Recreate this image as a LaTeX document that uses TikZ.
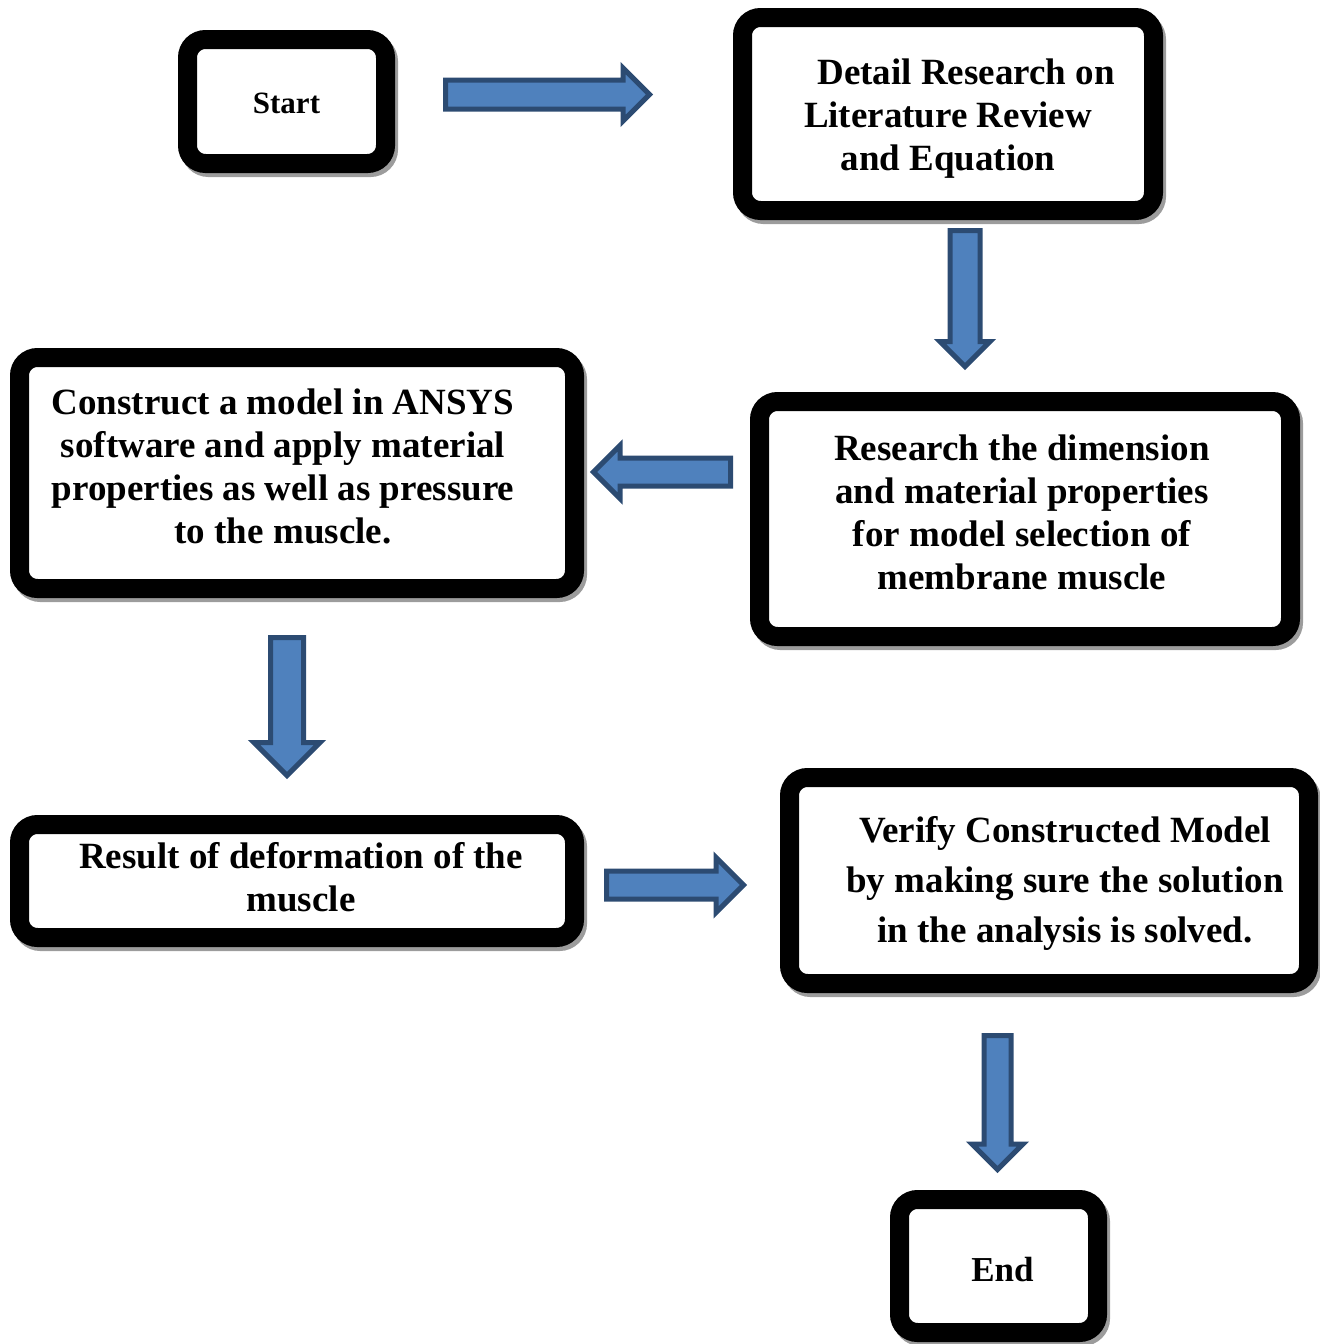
\documentclass[tikz,border=0pt]{standalone}
\usepackage{fontspec}
\setmainfont{Liberation Serif}
\usepackage{tikz}
\usetikzlibrary{shapes.arrows}
\definecolor{arrowfill}{HTML}{4F81BD}
\definecolor{arrowline}{HTML}{2C4B72}
\definecolor{shadowgray}{HTML}{9C9C9C}
\tikzset{
  flowbox/.style={draw, line width=9.5pt, rounded corners=9pt, fill=white, align=center, inner sep=0pt, outer sep=0pt,
    font=\bfseries\fontsize{18.5pt}{21.5pt}\selectfont, text depth=0pt,
    preaction={draw=shadowgray, transform canvas={shift={(1.5pt,-2pt)}}}},
  blockarrow/.style={single arrow, draw=arrowline, fill=arrowfill, line width=2.5pt, single arrow head indent=0pt,
    minimum width=0pt, outer sep=0pt, anchor=tail}
}
\begin{document}
\begin{tikzpicture}[x=0.5pt,y=-0.5pt]
                      \useasboundingbox (0,0) rectangle (1320,1344);
                      \node[flowbox, minimum width=99pt, minimum height=62pt, font=\bfseries\fontsize{15.5pt}{18pt}\selectfont, text height=11.5pt] (start) at (286.5,101.5) {Start};
                      \node[flowbox, minimum width=205.5pt, minimum height=96.5pt, text height=56.5pt] (detail) at (948,114) {\hspace*{18pt}Detail Research on\\Literature Review\\and Equation};
                      \node[flowbox, minimum width=265.5pt, minimum height=117.5pt, text height=70.5pt] (research) at (1025,519) {\hspace*{-3pt}Research the dimension\\\hspace*{-3pt}and material properties\\\hspace*{-3pt}for model selection of\\\hspace*{-3pt}membrane muscle};
                      \node[flowbox, minimum width=277.5pt, minimum height=115.5pt, text height=70.5pt] (construct) at (297,473) {\hspace*{-14pt}Construct a model in ANSYS\\\hspace*{-14pt}software and apply material\\\hspace*{-14pt}properties as well as pressure\\\hspace*{-14pt}to the muscle.};
                      \node[flowbox, minimum width=277.5pt, minimum height=56.5pt, text height=30pt] (result) at (297,881) {\hspace*{4pt}Result of deformation of the\\\hspace*{4pt}muscle};
                      \node[flowbox, minimum width=259.5pt, minimum height=103pt, font=\bfseries\fontsize{18.5pt}{25pt}\selectfont, text height=62pt] (verify) at (1049,880.5) {\hspace*{16pt}Verify Constructed Model\\\hspace*{16pt}by making sure the solution\\\hspace*{16pt}in the analysis is solved.};
                      \node[flowbox, minimum width=99pt, minimum height=66.5pt, font=\bfseries\fontsize{17.5pt}{21pt}\selectfont, text height=15.4pt] (end) at (998.5,1266) {\hspace*{4pt}End};
                      \node[blockarrow, minimum height=102pt, inner sep=6pt, single arrow head extend=6pt] (a1) at (445.5,94.5) {};
                      \node[blockarrow, rotate=-90, minimum height=68pt, inner sep=6.25pt, single arrow head extend=5pt] (a2) at (965,230.5) {};
                      \node[blockarrow, rotate=180, minimum height=68.5pt, inner sep=5.75pt, single arrow head extend=6.25pt] (a3) at (730.5,472) {};
                      \node[blockarrow, rotate=-90, minimum height=69pt, inner sep=7pt, single arrow head extend=8.25pt] (a4) at (287,637.5) {};
                      \node[blockarrow, minimum height=68.5pt, inner sep=5.75pt, single arrow head extend=6.75pt] (a5) at (606.5,885) {};
                      \node[blockarrow, rotate=-90, minimum height=67pt, inner sep=5.5pt, single arrow head extend=6pt] (a6) at (997.5,1035.5) {};
                  \end{tikzpicture}
\end{document}
